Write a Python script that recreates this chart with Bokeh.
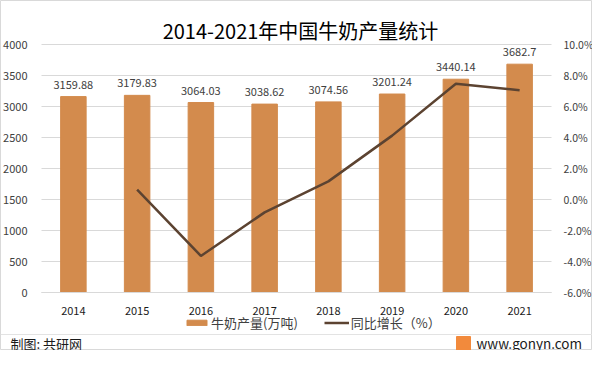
from bokeh.plotting import figure
from bokeh.models import (Range1d, LinearAxis, ColumnDataSource, LabelSet, Label, Span,
                          Legend, LegendItem, FixedTicker, PrintfTickFormatter)
from bokeh.embed import file_html
from bokeh.resources import INLINE
from bokeh.core.properties import value

years = ["2014", "2015", "2016", "2017", "2018", "2019", "2020", "2021"]
output = [3159.88, 3179.83, 3064.03, 3038.62, 3074.56, 3201.24, 3440.14, 3682.7]
output_labels = ["3159.88", "3179.83", "3064.03", "3038.62", "3074.56", "3201.24", "3440.14", "3682.7"]
growth_years = ["2015", "2016", "2017", "2018", "2019", "2020", "2021"]
growth = [0.63, -3.64, -0.83, 1.17, 4.12, 7.47, 7.05]
left_ticks = [0, 500, 1000, 1500, 2000, 2500, 3000, 3500, 4000]
right_ticks = [-6, -4, -2, 0, 2, 4, 6, 8, 10]

FONT = "Noto Sans CJK SC"
BAR = "#D38B4D"
LINE = "#5C4331"
TXT = "#404040"

W, H = 592, 350          # figure size; whole canvas is the plot frame
# layout geometry (canvas pixels): plot area left/right edges, value-axis top/bottom
PL, PR, PT, PB = 41, 551, 44, 292

idx = list(range(len(years)))
g_idx = [years.index(y) for y in growth_years]
n = len(years)
xpx = (PR - PL) / n
x0 = -0.5 - PL / xpx
x1 = n - 0.5 + (W - PR) / xpx
ypx = (PB - PT) / left_ticks[-1]
y0 = -(H - PB) / ypx
y1 = left_ticks[-1] + PT / ypx
rpx = (PB - PT) / (right_ticks[-1] - right_ticks[0])
r0 = right_ticks[0] - (H - PB) / rpx
r1 = right_ticks[-1] + PT / rpx

def fx(px):
    return x0 + px / xpx

def fy(py):
    return y1 - py / ypx

p = figure(width=W, height=H, x_range=Range1d(x0, x1), y_range=Range1d(y0, y1),
           output_backend="svg", toolbar_location=None,
           min_border_left=0, min_border_right=0, min_border_top=0, min_border_bottom=0)
p.outline_line_color = "#d9d9d9"
p.background_fill_color = "white"
p.border_fill_color = "white"
p.grid.visible = False
p.extra_y_ranges = {"pct": Range1d(r0, r1)}

# horizontal gridlines across the plot area
p.segment(x0=[-0.5] * len(left_ticks), x1=[n - 0.5] * len(left_ticks), y0=left_ticks, y1=left_ticks,
          line_color="#d9d9d9", line_width=1)

src = ColumnDataSource(dict(x=idx, y=output, lab=output_labels))
bars = p.vbar(x="x", top="y", width=0.4, source=src, color=BAR)
line = p.line(x=g_idx, y=growth, y_range_name="pct", line_color=LINE, line_width=2.5)

labels = LabelSet(x="x", y="y", text="lab", source=src, text_align="center", text_baseline="bottom",
                  y_offset=8, text_font=value(FONT), text_font_size="11px", text_color=TXT)
p.add_layout(labels)

p.xaxis.ticker = FixedTicker(ticks=idx)
p.xaxis.major_label_overrides = {i: y for i, y in zip(idx, years)}
p.xaxis.fixed_location = 0
p.xaxis.bounds = (-0.5, n - 0.5)
p.xaxis.axis_line_color = "#d9d9d9"
p.xaxis.major_tick_line_color = None
p.xaxis.minor_tick_line_color = None
p.xaxis.major_label_text_font = FONT
p.xaxis.major_label_text_font_size = "11px"
p.xaxis.major_label_text_color = "#1a1a1a"
p.xaxis.major_label_standoff = 8

p.yaxis.ticker = FixedTicker(ticks=left_ticks)
p.yaxis.fixed_location = -0.5
p.yaxis.axis_line_color = None
p.yaxis.major_tick_line_color = None
p.yaxis.minor_tick_line_color = None
p.yaxis.major_label_text_font = FONT
p.yaxis.major_label_text_font_size = "11px"
p.yaxis.major_label_text_color = TXT
p.yaxis.major_label_standoff = 8

ax2 = LinearAxis(y_range_name="pct", ticker=FixedTicker(ticks=right_ticks),
                 formatter=PrintfTickFormatter(format="%.1f%%"))
ax2.fixed_location = n - 0.5
ax2.axis_line_color = None
ax2.major_tick_line_color = None
ax2.minor_tick_line_color = None
ax2.major_label_text_font = FONT
ax2.major_label_text_font_size = "10.5px"
ax2.major_label_text_color = TXT
ax2.major_label_standoff = 6
p.add_layout(ax2, "right")

# title
p.add_layout(Label(x=fx(300), y=fy(30), text="2014-2021年中国牛奶产量统计",
                   text_align="center", text_baseline="middle",
                   text_font=FONT, text_font_size="20px", text_color="#000000"))

legend = Legend(items=[LegendItem(label="牛奶产量(万吨)", renderers=[bars]),
                       LegendItem(label="同比增长（%）", renderers=[line])],
                orientation="horizontal", location=(184, 18), border_line_color=None,
                background_fill_alpha=0,
                label_text_font=FONT, label_text_font_size="13px", label_text_color=TXT,
                glyph_width=25, glyph_height=7, spacing=26, padding=0, margin=0,
                label_standoff=2, label_height=16)
p.add_layout(legend)

# footer
p.add_layout(Span(location=fy(334), dimension="width", line_color="#e3e3e3", line_width=1))
p.add_layout(Label(x=fx(10), y=fy(343), text="制图: 共研网", text_baseline="middle",
                   text_font=FONT, text_font_size="13px", text_color="#1a1a1a"))
p.scatter(x=[fx(463)], y=[fy(343)], marker="square", size=14, color="#F28A3C")
p.add_layout(Label(x=fx(476), y=fy(342), text="www.gonyn.com", text_baseline="middle",
                   text_font=FONT, text_font_size="13.5px", text_color="#1a1a1a"))

open("out.html", "w").write(file_html(p, INLINE))
